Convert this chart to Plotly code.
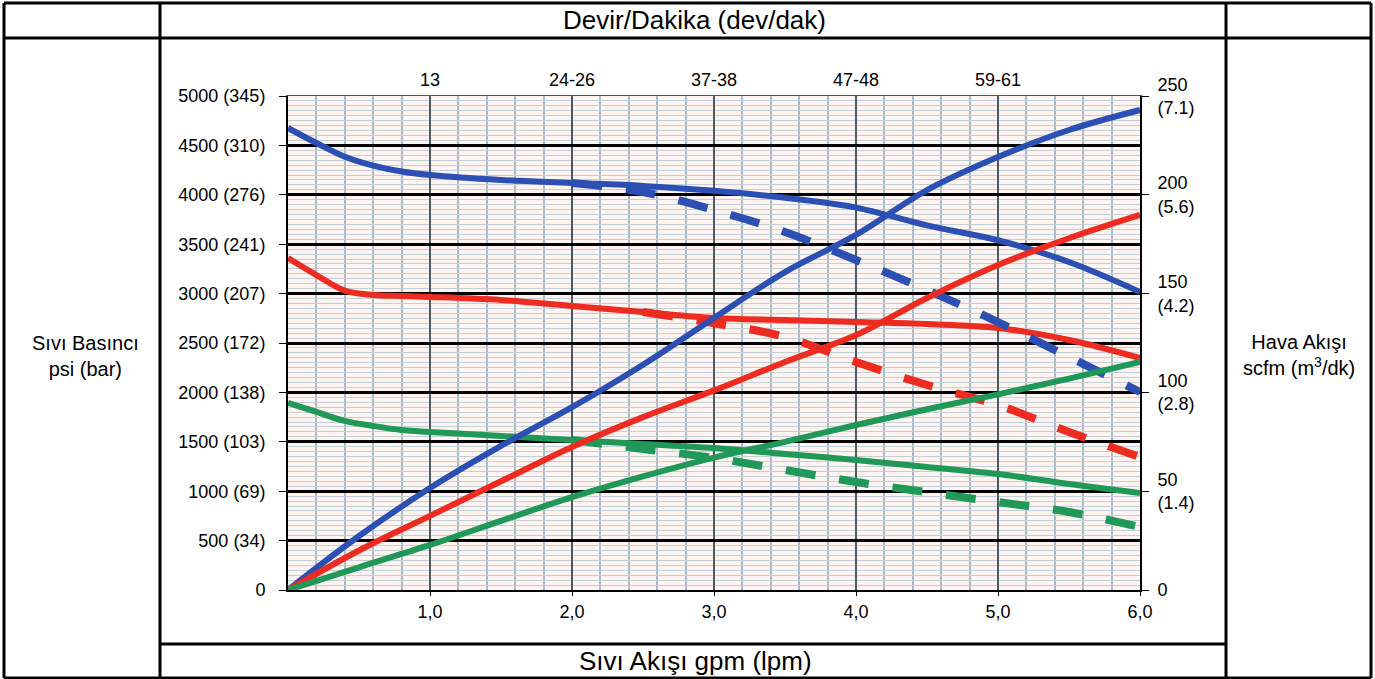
import plotly.graph_objects as go

# gpm grid shared by all curves
flow = [0, 0.2, 0.4, 0.6, 0.8, 1.0, 1.5, 2.0, 2.5, 3.0, 3.5, 4.0, 4.5, 5.0, 5.5, 6.0]

# fluid pressure (psi), solid curves
blue_psi = [4676, 4524, 4385, 4295, 4235, 4200, 4150, 4120, 4090, 4040, 3970, 3870, 3690, 3540, 3320, 3016]
red_psi = [3360, 3188, 3030, 2986, 2975, 2966, 2935, 2874, 2814, 2753, 2733, 2713, 2692, 2652, 2530, 2348]
green_psi = [1893, 1802, 1711, 1660, 1619, 1599, 1559, 1518, 1478, 1437, 1377, 1316, 1245, 1174, 1073, 982]

# dashed pressure curves (where they leave the solid ones)
blue_dash_x = [2.0, 2.5, 3.0, 3.5, 4.0, 4.5, 5.0, 5.5, 6.0]
blue_dash_psi = [4120, 4028, 3846, 3623, 3340, 3036, 2712, 2358, 2004]
red_dash_x = [2.5, 3.0, 3.5, 4.0, 4.5, 5.0, 5.5, 6.0]
red_dash_psi = [2814, 2700, 2561, 2308, 2075, 1872, 1599, 1346]
green_dash_x = [2.0, 2.5, 3.0, 3.5, 4.0, 4.5, 5.0, 5.5, 6.0]
green_dash_psi = [1518, 1427, 1336, 1215, 1093, 990, 890, 790, 638]

# air consumption (scfm), rising curves
air_x = [0, 0.5, 1.0, 1.5, 2.0, 2.5, 3.0, 3.5, 4.0, 4.5, 5.0, 5.5, 6.0]
blue_scfm = [0, 27.3, 51.6, 72.9, 92.5, 114, 137.7, 160.9, 179.7, 202.4, 219.1, 232.8, 242.9]
red_scfm = [0, 20, 37.5, 55, 72.4, 87.5, 101, 115.4, 129, 147.8, 164.5, 178, 189.8]
green_scfm = [0, 11.5, 22.8, 35, 47, 57.5, 67, 75, 83.5, 91.5, 99, 107, 115.4]

# axis labels
psi_ticks = [0, 500, 1000, 1500, 2000, 2500, 3000, 3500, 4000, 4500, 5000]
psi_text = ["0", "500 (34)", "1000 (69)", "1500 (103)", "2000 (138)", "2500 (172)",
            "3000 (207)", "3500 (241)", "4000 (276)", "4500 (310)", "5000 (345)"]
scfm_ticks = [0, 50, 100, 150, 200, 250]
scfm_text = ["0", "50<br>(1.4)", "100<br>(2.8)", "150<br>(4.2)", "200<br>(5.6)", "250<br>(7.1)"]
gpm_ticks = [1, 2, 3, 4, 5, 6]
gpm_text = ["1,0", "2,0", "3,0", "4,0", "5,0", "6,0"]
rpm_ticks = [1, 2, 3, 4, 5]
rpm_text = ["13", "24-26", "37-38", "47-48", "59-61"]

BLUE = "#2c4fb3"
RED = "#ee2b20"
GREEN = "#1f9858"
FONT = "Liberation Sans, Arial, sans-serif"

W, H = 1375, 679
L, R, T, B = 288, 1140, 96, 590


def px(x):
    return (x - L) / (R - L)


def py(y):
    return (B - y) / (B - T)


fig = go.Figure()

for xs, ys, c in [(flow, blue_psi, BLUE), (flow, red_psi, RED), (flow, green_psi, GREEN)]:
    fig.add_trace(go.Scatter(x=xs, y=ys, mode="lines", line=dict(color=c, width=6, shape="spline"),
                             hoverinfo="skip"))

for xs, ys, c in [(blue_dash_x, blue_dash_psi, BLUE), (red_dash_x, red_dash_psi, RED),
                  (green_dash_x, green_dash_psi, GREEN)]:
    fig.add_trace(go.Scatter(x=xs, y=ys, mode="lines",
                             line=dict(color=c, width=8, dash="30px,24px", shape="spline"),
                             hoverinfo="skip"))

for ys, c in [(blue_scfm, BLUE), (red_scfm, RED), (green_scfm, GREEN)]:
    fig.add_trace(go.Scatter(x=air_x, y=ys, yaxis="y2", mode="lines",
                             line=dict(color=c, width=6, shape="spline"), hoverinfo="skip"))

# carrier for the top (rpm) axis
fig.add_trace(go.Scatter(x=[0, 6], y=[0, 0], xaxis="x2", mode="none", hoverinfo="skip"))

fig.update_layout(
    width=W, height=H,
    margin=dict(l=L, r=W - R, t=T, b=H - B),
    paper_bgcolor="white",
    plot_bgcolor="#fdf4f1",
    showlegend=False,
    font=dict(family=FONT, size=18, color="black"),
    xaxis=dict(range=[0, 6], tickvals=gpm_ticks, ticktext=gpm_text,
               showline=True, linecolor="black", linewidth=2,
               ticks="outside", ticklen=4, tickcolor="black", ticklabelstandoff=0,
               showgrid=True, gridcolor="#4d5a5f", gridwidth=2, zeroline=False,
               minor=dict(dtick=0.2, tick0=0, showgrid=True, gridcolor="#a9bcc6", gridwidth=2)),
    xaxis2=dict(range=[0, 6], overlaying="x", side="top", tickvals=rpm_ticks, ticktext=rpm_text,
                showline=True, linecolor="#555555", linewidth=1, ticks="", showgrid=False,
                zeroline=False, ticklabelstandoff=2),
    yaxis=dict(range=[0, 5000], tickvals=psi_ticks, ticktext=psi_text,
               showline=True, linecolor="black", linewidth=2,
               ticks="outside", ticklen=7, tickcolor="black", ticklabelstandoff=10,
               showgrid=True, gridcolor="black", gridwidth=2.5, zeroline=False,
               minor=dict(dtick=50, tick0=0, showgrid=True, gridcolor="#c3d1d7", gridwidth=1.3)),
    yaxis2=dict(range=[0, 250], overlaying="y", side="right", tickvals=scfm_ticks, ticktext=scfm_text,
                showline=True, linecolor="black", linewidth=2,
                ticks="outside", ticklen=7, tickcolor="black", ticklabelstandoff=5,
                showgrid=False, zeroline=False),
)

# table frame around the chart
lw = 3
table_lines = [
    (4, 3, 1371, 3), (4, 678, 1371, 678), (4, 3, 4, 678), (1371, 3, 1371, 678),
    (160, 3, 160, 678), (1226, 3, 1226, 678),
    (4, 38, 1371, 38), (160, 644, 1226, 644),
]
for x0, y0, x1, y1 in table_lines:
    fig.add_shape(type="line", xref="paper", yref="paper",
                  x0=px(x0), y0=py(y0), x1=px(x1), y1=py(y1),
                  line=dict(color="black", width=lw))

labels = [
    ("Devir/Dakika (dev/dak)", 694, 20, 26),
    ("Sıvı Akışı gpm (lpm)", 695, 661, 26),
    ("Sıvı Basıncı<br>psi (bar)", 85, 356, 20),
    ("Hava Akışı<br>scfm (m<sup>3</sup>/dk)", 1299, 355, 20),
]
for txt, x, y, size in labels:
    fig.add_annotation(text=txt, xref="paper", yref="paper", x=px(x), y=py(y),
                       xanchor="center", yanchor="middle", showarrow=False,
                       font=dict(size=size))

fig.write_html("out.html", config={"displayModeBar": False},
               post_script="document.body.style.margin = '0';")
